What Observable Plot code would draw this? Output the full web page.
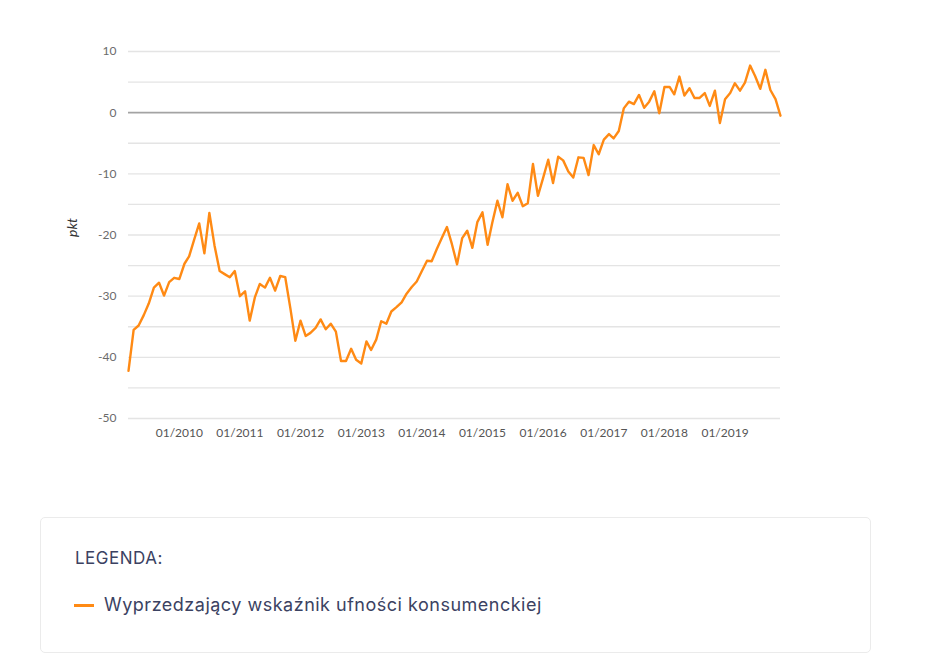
<!DOCTYPE html>
<html>
<head>
<meta charset="utf-8">
<script src="https://cdn.jsdelivr.net/npm/d3@7"></script>
<script src="https://cdn.jsdelivr.net/npm/@observablehq/plot@0.6"></script>
<style>
  html, body { margin: 0; padding: 0; background: #fff; }
  #wrap { position: relative; width: 945px; height: 660px; font-family: Lato, sans-serif; }
  #chart { position: absolute; left: 0; top: 0; }
  #legend { position: absolute; left: 40px; top: 517px; width: 831px; height: 136px; box-sizing: border-box;
            border: 1px solid #ebebeb; border-radius: 5px; font-family: Inter, "Open Sans", sans-serif; color: #3b4262; }
  #legend .title { position: absolute; left: 34px; top: 32px; font-size: 17px; line-height: 17px; font-weight: 400; letter-spacing: 0.5px; }
  #legend .item { position: absolute; left: 33px; top: 78px; font-size: 18px; line-height: 18px; white-space: nowrap; letter-spacing: 0.5px; }
  #legend .swatch { display: inline-block; width: 20px; height: 3px; background: #ff8a14; vertical-align: middle; margin-right: 10px; position: relative; top: -1px; }
</style>
</head>
<body>
<div id="wrap">
  <div id="chart"></div>
  <div id="legend">
    <div class="title">LEGENDA:</div>
    <div class="item"><span class="swatch"></span>Wyprzedzający wskaźnik ufności konsumenckiej</div>
  </div>
</div>
<script>
// Series: leading consumer confidence indicator, monthly, from 03/2009 to 12/2019
const seriesName = "Wyprzedzający wskaźnik ufności konsumenckiej";
const startYear = 2009, startMonth = 3;
const values = [
  -42.2, -35.5, -34.8, -33.1, -31.2, -28.6, -27.8, -29.9, -27.7, -27.0,
  -27.2, -24.7, -23.5, -20.7, -18.1, -23.0, -16.4, -21.7, -25.9, -26.4,
  -26.9, -25.9, -30.0, -29.2, -34.0, -30.2, -28.0, -28.6, -27.0, -29.1,
  -26.7, -26.9, -32.0, -37.3, -34.0, -36.5, -36.0, -35.2, -33.8, -35.4,
  -34.5, -35.8, -40.6, -40.6, -38.6, -40.4, -41.0, -37.4, -38.8, -37.1,
  -34.1, -34.5, -32.5, -31.8, -31.0, -29.6, -28.5, -27.6, -25.9, -24.2,
  -24.3, -22.3, -20.5, -18.7, -21.5, -24.8, -20.5, -19.3, -22.1, -17.9,
  -16.3, -21.6, -18.0, -14.4, -17.1, -11.7, -14.4, -13.1, -15.3, -14.8,
  -8.4, -13.6, -10.7, -7.7, -11.5, -7.2, -7.8, -9.6, -10.6, -7.3,
  -7.4, -10.2, -5.3, -6.8, -4.4, -3.5, -4.2, -3.0, 0.7, 1.8,
  1.4, 2.9, 0.8, 1.8, 3.5, -0.1, 4.2, 4.2, 3.0, 5.9,
  2.8, 4.0, 2.4, 2.4, 3.2, 1.1, 3.6, -1.7, 2.2, 3.2,
  4.8, 3.6, 4.9, 7.7, 6.0, 3.9, 7.0, 3.7, 2.2, -0.5
];
const xTickYears = [2010, 2011, 2012, 2013, 2014, 2015, 2016, 2017, 2018, 2019];
const yTickLabels = [-50, -40, -30, -20, -10, 0, 10];
const yGridLines = [-50, -45, -40, -35, -30, -25, -20, -15, -10, -5, 5, 10];
const yZero = [0];
const yLabel = "pkt";

const data = values.map((v, i) => ({ date: new Date(Date.UTC(startYear, startMonth - 1 + i, 1)), value: v }));
const xTicks = xTickYears.map(y => new Date(Date.UTC(y, 0, 1)));
const fmt = d3.utcFormat("%m/%Y");

const chart = Plot.plot({
  width: 945,
  height: 458,
  marginTop: 51,
  marginBottom: 40,
  marginLeft: 128,
  marginRight: 165,
  style: { fontFamily: "Lato, sans-serif", fontSize: "12px", color: "#6b6b6b", background: "transparent" },
  x: { type: "utc", domain: [data[0].date, data[data.length - 1].date] },
  y: { domain: [-50, 10] },
  marks: [
    Plot.ruleY(yGridLines, { stroke: "#e4e4e4", strokeWidth: 1.3, strokeOpacity: 1 }),
    Plot.ruleY(yZero, { stroke: "#a3a3a3", strokeWidth: 1.8, strokeOpacity: 1 }),
    Plot.axisX({ ticks: xTicks, tickFormat: fmt, tickSize: 0, tickPadding: 10, label: null, fill: "#555" }),
    Plot.axisY({ ticks: yTickLabels, tickFormat: d => String(d), tickSize: 0, tickPadding: 12, label: null, fill: "#6b6b6b" }),
    Plot.text([yLabel], { frameAnchor: "left", dx: -56, dy: 2, rotate: -90, text: d => d, fontStyle: "italic", fontSize: 14, fill: "#333" }),
    Plot.line(data, { x: "date", y: "value", stroke: "#ff8a14", strokeWidth: 2.4, strokeLinejoin: "round", strokeLinecap: "round" })
  ]
});
document.getElementById("chart").appendChild(chart);
</script>
</body>
</html>
